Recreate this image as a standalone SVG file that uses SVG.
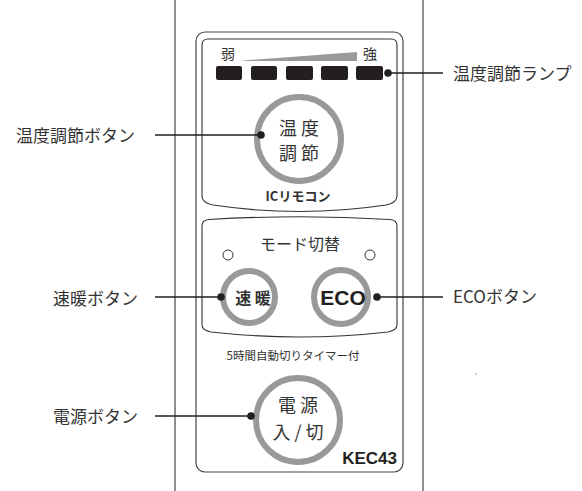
<svg xmlns="http://www.w3.org/2000/svg" width="582" height="491" viewBox="0 0 582 491">
<style>
.body{fill:none;stroke:#444;stroke-width:1.2}
.panel{fill:none;stroke:#333;stroke-width:1.1}
.ring{fill:#fff;stroke:#999;stroke-width:6}
.lamp{fill:#231f20}
.lbl{font-family:"Noto Sans CJK JP","Noto Sans",sans-serif;font-size:17px;fill:#333;dominant-baseline:central}
.jp{font-family:"Noto Sans CJK JP",sans-serif;fill:#333;text-anchor:middle;dominant-baseline:central}
.conn line{stroke:#231f20;stroke-width:1.4}
.conn circle{fill:#231f20}
</style>
<rect width="582" height="491" fill="#fff"/>
<g id="remote">
<line class="body" x1="175" y1="0" x2="175" y2="491"/>
<line class="body" x1="423" y1="0" x2="423" y2="491"/>
<rect class="body" x="196" y="32" width="207" height="440" rx="9"/>
<path class="panel" d="M202 45 Q202 39 208 39 L391 39 Q397 39 397 45 L397 196 Q397 203 386 205 Q300 218 213 205 Q202 203 202 196 Z"/>
<path class="panel" d="M202 226 Q202 220 209 219.5 Q300 214 390 219.5 Q397 220 397 226 L397 325 Q397 330 388 332 Q300 342 211 332 Q202 330 202 325 Z"/>
<text class="jp" x="228" y="53" font-size="14">弱</text>
<text class="jp" x="370" y="53" font-size="14">強</text>
<polygon points="243,60.5 357,52 357,61 243,61" fill="#999"/>
<text class="jp" x="298" y="195" font-size="13" font-weight="bold">ICリモコン</text>
<text class="jp" x="300" y="243" font-size="16">モード切替</text>
<circle cx="228" cy="255" r="5" fill="none" stroke="#333" stroke-width="1"/>
<circle cx="370" cy="255" r="5" fill="none" stroke="#333" stroke-width="1"/>
<text class="jp" x="293" y="355" font-size="11.5">5時間自動切りタイマー付</text>
<text x="397" y="464" font-family="Liberation Sans,Arial,sans-serif" font-weight="bold" font-size="17" fill="#231f20" text-anchor="end">KEC43</text>
</g>
<g id="lamps">
<rect class="lamp" x="216" y="66" width="26" height="14" rx="2"/>
<rect class="lamp" x="251" y="66" width="26" height="14" rx="2"/>
<rect class="lamp" x="286" y="66" width="27" height="14" rx="2"/>
<rect class="lamp" x="321" y="66" width="27" height="14" rx="2"/>
<rect class="lamp" x="356" y="66" width="27" height="14" rx="2"/>
</g>
<g id="temp-button">
<circle class="ring" cx="299" cy="139" r="42"/>
<text class="jp" x="299" y="127" font-size="18">温 度</text>
<text class="jp" x="299" y="152" font-size="18">調 節</text>
</g>
<g id="quick-button">
<circle class="ring" cx="249" cy="297" r="26"/>
<text class="jp" x="253" y="297" font-size="16" font-weight="bold">速 暖</text>
</g>
<g id="eco-button">
<circle class="ring" cx="341" cy="297" r="27"/>
<text x="343" y="305" font-family="Liberation Sans,Arial,sans-serif" font-weight="bold" font-size="21" fill="#231f20" text-anchor="middle">ECO</text>
</g>
<g id="power-button">
<circle class="ring" cx="298" cy="420" r="42"/>
<text class="jp" x="298" y="404" font-size="18">電 源</text>
<text class="jp" x="298" y="431" font-size="18">入 / 切</text>
</g>
<g class="conn" id="connectors">
<line x1="155" y1="135" x2="261" y2="135"/><circle cx="261" cy="135" r="3.8"/>
<line x1="155" y1="297" x2="221" y2="297"/><circle cx="221" cy="297" r="3.8"/>
<line x1="155" y1="416" x2="251" y2="416"/><circle cx="251" cy="416" r="3.8"/>
<line x1="388" y1="73" x2="443" y2="73"/><circle cx="388" cy="73" r="3.8"/>
<line x1="377" y1="297" x2="443" y2="297"/><circle cx="377" cy="297" r="3.8"/>
</g>
<g id="labels">
<text class="lbl" x="16" y="134">温度調節ボタン</text>
<text class="lbl" x="53" y="297">速暖ボタン</text>
<text class="lbl" x="53" y="415">電源ボタン</text>
<text class="lbl" x="453" y="72">温度調節ランプ</text>
<text class="lbl" x="453" y="295">ECOボタン</text>
</g>
<circle cx="476" cy="374" r="0.7" fill="#888"/>
</svg>
